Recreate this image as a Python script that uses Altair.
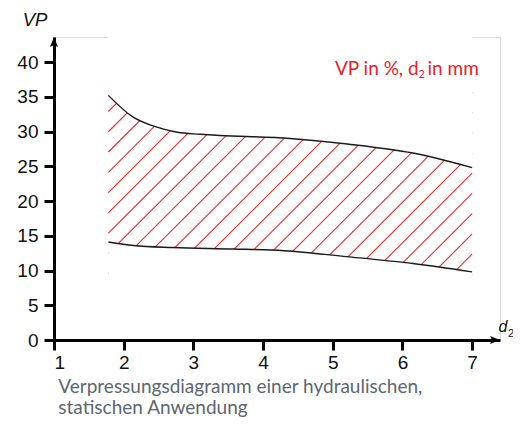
import altair as alt
import pandas as pd
import numpy as np

# ---- data ----
d_upper = [1.78, 2.13, 2.42, 2.77, 3.10, 4.39, 5.21, 6.15, 7.0]
vp_upper = [35.2, 32.1, 30.8, 29.9, 29.6, 29.0, 28.2, 26.9, 24.8]
d_lower = [1.78, 2.14, 2.71, 3.57, 4.30, 5.20, 6.15, 7.0]
vp_lower = [14.1, 13.6, 13.3, 13.1, 12.85, 12.0, 11.0, 9.8]
x_ticks = [1, 2, 3, 4, 5, 6, 7]
y_ticks = [0, 5, 10, 15, 20, 25, 30, 35, 40]

X_MIN, X_MAX = 1.0, 7.4
Y_MIN, Y_MAX = 0.0, 43.6
W, H = 446, 303

upper = pd.DataFrame({"d": d_upper, "vp": vp_upper})
upper["top"] = Y_MAX
lower = pd.DataFrame({"d": d_lower, "vp": vp_lower})
lower["bot"] = 0.3

# ---- hatch segments (45 degrees on screen), two points per segment ----
px_x = W / (X_MAX - X_MIN)
px_y = H / (Y_MAX - Y_MIN)
m = px_x / px_y
step = 20.26 / px_x
a0 = 0.536
d_lo, d_hi = min(d_upper[0], d_lower[0]), max(d_upper[-1], d_lower[-1])
rows = []
for k in range(-20, 40):
    a = a0 + k * step
    d1 = max(d_lo, a + 8.0 / m)
    d2 = min(d_hi, a + 37.0 / m)
    if d1 < d2:
        rows.append({"k": k, "o": 0, "hd": d1, "hv": m * (d1 - a)})
        rows.append({"k": k, "o": 1, "hd": d2, "hv": m * (d2 - a)})
hatch = pd.DataFrame(rows)

xs = alt.Scale(domain=[X_MIN, X_MAX], nice=False, zero=False)
ys = alt.Scale(domain=[Y_MIN, Y_MAX], nice=False, zero=False)

axis_common = dict(
    domainColor="black", domainWidth=3, tickColor="black", tickWidth=3,
    tickSize=10, labelFont="Liberation Sans", labelFontSize=19,
    labelColor="#111111", grid=False, title=None, zindex=1, labelOverlap=False,
)
x_axis = alt.Axis(values=x_ticks, format="d", labelPadding=3, **axis_common)
y_axis = alt.Axis(values=y_ticks, format="d", labelPadding=6, **axis_common)

def X(f):
    return alt.X(f, scale=xs, axis=x_axis)

def Y(f):
    return alt.Y(f, scale=ys, axis=y_axis, stack=None)

hatch_layer = alt.Chart(hatch).mark_line(stroke="#ee2a2a", strokeWidth=1.1).encode(
    x=X("hd:Q"), y=Y("hv:Q"), detail="k:N", order="o:Q"
)

mask_up = alt.Chart(upper).mark_area(fill="white", opacity=1, interpolate="monotone").encode(
    x=X("d:Q"), y=Y("vp:Q"), y2="top:Q"
)
mask_lo = alt.Chart(lower).mark_area(fill="white", opacity=1, interpolate="monotone").encode(
    x=X("d:Q"), y=Y("vp:Q"), y2="bot:Q"
)
line_up = alt.Chart(upper).mark_line(stroke="#1a1a1a", strokeWidth=1.4, interpolate="monotone").encode(
    x=X("d:Q"), y=Y("vp:Q")
)
line_lo = alt.Chart(lower).mark_line(stroke="#1a1a1a", strokeWidth=1.4, interpolate="monotone").encode(
    x=X("d:Q"), y=Y("vp:Q")
)

def txt(s, x, y, **kw):
    return alt.Chart(pd.DataFrame({"t": [s]})).mark_text(**kw).encode(
        x=alt.value(x), y=alt.value(y), text="t:N"
    )

arrow_y = alt.Chart(pd.DataFrame({"a": [0]})).mark_point(
    shape="M0,-1L0.8,1L0,0.6L-0.8,1Z", size=100, filled=True, color="black", opacity=1
).encode(x=alt.value(0), y=alt.value(5))
arrow_x = alt.Chart(pd.DataFrame({"a": [0]})).mark_point(
    shape="M1,0L-1,0.8L-0.6,0L-1,-0.8Z", size=100, filled=True, color="black", opacity=1
).encode(x=alt.value(W - 5), y=alt.value(H))

red = "#e8202c"
gray = "#5d6672"
texts = [
    txt("VP", -19, -11, font="Liberation Sans", fontSize=18.5, fontStyle="italic", align="center", baseline="alphabetic", color="#111"),
    txt("d", 444.5, 294.7, font="Liberation Sans", fontSize=16, fontStyle="italic", align="left", baseline="alphabetic", color="#111"),
    txt("2", 454, 299.5, font="Liberation Sans", fontSize=11, align="left", baseline="alphabetic", color="#111"),
    txt("VP in %, d", 281, 38, font="Lato", fontSize=19, align="left", baseline="alphabetic", color=red),
    txt("2", 364.5, 41.3, font="Lato", fontSize=11, align="left", baseline="alphabetic", color=red),
    txt("in mm", 373.5, 38, font="Lato", fontSize=19, align="left", baseline="alphabetic", color=red),
    txt("Verpressungsdiagramm einer hydraulischen,", 4.3, 355.5, font="Lato", fontSize=19, align="left", baseline="alphabetic", color=gray),
    txt("statischen Anwendung", 4.3, 377, font="Lato", fontSize=19, align="left", baseline="alphabetic", color=gray),
]

chart = alt.layer(
    hatch_layer, mask_up, mask_lo, line_up, line_lo, arrow_y, arrow_x, *texts
).properties(
    width=W, height=H,
    autosize=alt.AutoSizeParams(type="none"),
    padding={"left": 46, "top": 29, "right": 13, "bottom": 77},
).configure_view(stroke=None).configure(background="white")

chart.save("out.html", embed_options={"renderer": "svg", "actions": False})
